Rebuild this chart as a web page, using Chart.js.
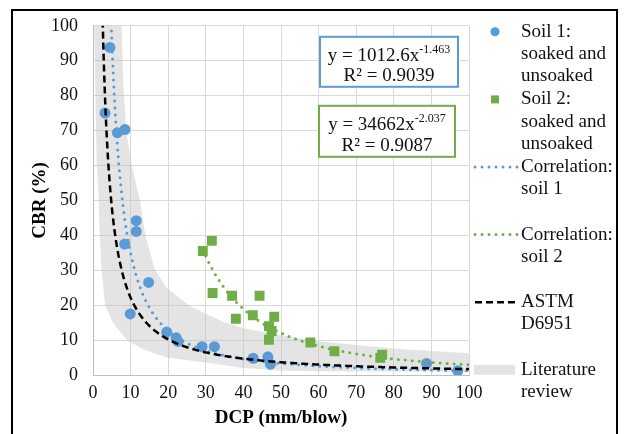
<!DOCTYPE html>
<html>
<head>
<meta charset="utf-8">
<script src="https://cdn.jsdelivr.net/npm/chart.js@4"></script>
<style>
  html, body { margin: 0; padding: 0; background: #fff; overflow: hidden; }
  #wrap { position: relative; width: 625px; height: 434px; }
</style>
</head>
<body>
<div id="wrap"><canvas id="cbrChart" width="625" height="434"></canvas></div>
<script>
// Soil 1 (soaked and unsoaked): DCP (mm/blow) vs CBR (%)
const soil1Dcp = [3.2, 4.5, 6.5, 8.5, 8.4, 9.9, 11.5, 11.5, 14.8, 19.6, 22.1, 22.6, 29.0, 32.3, 42.6, 46.5, 47.2, 88.7, 97.0];
const soil1Cbr = [75.0, 93.8, 69.4, 70.3, 37.5, 17.5, 44.2, 41.1, 26.5, 12.3, 10.7, 9.6, 8.1, 8.1, 4.8, 5.2, 3.1, 3.3, 1.2];

// Soil 2 (soaked and unsoaked)
const soil2Dcp = [29.2, 31.6, 31.8, 37.0, 38.0, 42.5, 44.3, 46.8, 46.8, 47.5, 48.2, 57.8, 64.2, 76.4, 76.9];
const soil2Cbr = [35.5, 38.4, 23.5, 22.7, 16.1, 17.1, 22.7, 14.0, 10.1, 12.6, 16.7, 9.3, 6.8, 4.9, 5.8];

// power fits y = a * x^b
const soil1Fit = [1012.6, -1.463];
const soil1R2 = 0.9039;
const soil2Fit = [34662, -2.037];
const soil2R2 = 0.9087;
const astmFit = [292, -1.12];   // ASTM D6951: CBR = 292 / DCP^1.12

// x ranges the fitted curves are drawn over
const soil1Range = [3.2, 100];
const soil2Range = [29.2, 100];
const astmRange = [2.5, 100];

// literature review envelope, outer edge then inner edge
const bandUpperDcp = [0.3, 7.6, 8.0, 8.8, 10.3, 12.5, 13.9, 16.5, 19.6, 25.8, 34.7, 40, 50, 60, 70, 80, 90, 100];
const bandUpperCbr = [100, 100, 85, 70, 60, 50, 40, 30, 25, 19.7, 15.2, 13.4, 11.4, 9.7, 8.6, 7.6, 6.9, 6.2];
const bandLowerDcp = [100, 80, 60, 50, 40, 30, 19.6, 13.4, 9.0, 5.4, 3.2, 2.3, 1.8, 1.4, 1.0, 0.3];
const bandLowerCbr = [0.9, 1.0, 1.1, 1.3, 2.0, 3.6, 5.0, 7.3, 10.0, 14.8, 20.0, 30.0, 40.0, 53.0, 60.0, 100];

const xTicks = [0, 10, 20, 30, 40, 50, 60, 70, 80, 90, 100];
const yTicks = [0, 10, 20, 30, 40, 50, 60, 70, 80, 90, 100];

const BLUE = '#5b9bd5';
const GREEN = '#70ad47';
const BAND = 'rgba(190,190,190,0.42)';
const SERIF = '"Liberation Serif", "Times New Roman", serif';

const pts = (xs, ys) => xs.map((x, i) => ({ x, y: ys[i] }));

function powerCurve(fit, range) {
  const out = [];
  for (let x = range[0]; x <= range[1] + 1e-9; x += 0.25) {
    out.push({ x, y: fit[0] * Math.pow(x, fit[1]) });
  }
  return out;
}

const bandShape = pts(bandUpperDcp, bandUpperCbr).concat(pts(bandLowerDcp, bandLowerCbr));

const dotted = { borderWidth: 3, borderDash: [0, 7], borderCapStyle: 'round' };
const dashed = { borderWidth: 2.5, borderDash: [7, 4], borderCapStyle: 'butt' };

// legend on the right side, drawn by hand for the wrapped labels
const legendRows = [
  { kind: 'circle', color: BLUE, lines: ['Soil 1:', 'soaked and', 'unsoaked'] },
  { kind: 'square', color: GREEN, lines: ['Soil 2:', 'soaked and', 'unsoaked'] },
  { kind: 'line', color: BLUE, style: dotted, lines: ['Correlation:', 'soil 1'] },
  { kind: 'line', color: GREEN, style: dotted, lines: ['Correlation:', 'soil 2'] },
  { kind: 'line', color: '#000', style: dashed, lines: ['ASTM', 'D6951'] },
  { kind: 'band', color: '#e3e3e3', lines: ['Literature', 'review'] },
];

const sideLegend = {
  id: 'sideLegend',
  afterDraw(chart) {
    const ctx = chart.ctx;
    const ca = chart.chartArea;
    const x0 = ca.right + 4;
    const markX = x0 + 22;
    const textX = x0 + 48;
    ctx.save();
    ctx.font = '19px ' + SERIF;
    ctx.fillStyle = '#111';
    ctx.textBaseline = 'middle';
    ctx.textAlign = 'left';
    legendRows.forEach((row, i) => {
      const y = ca.top + 6 + i * 67.6;
      if (row.kind === 'circle') {
        ctx.fillStyle = row.color;
        ctx.beginPath();
        ctx.arc(markX, y, 4.5, 0, Math.PI * 2);
        ctx.fill();
      } else if (row.kind === 'square') {
        ctx.fillStyle = row.color;
        ctx.fillRect(markX - 4, y - 4, 8, 8);
      } else if (row.kind === 'line') {
        ctx.strokeStyle = row.color;
        ctx.lineWidth = row.style.borderWidth;
        ctx.lineCap = row.style.borderCapStyle;
        ctx.setLineDash(row.style.borderDash);
        ctx.beginPath();
        ctx.moveTo(x0 + 2, y);
        ctx.lineTo(x0 + 46, y);
        ctx.stroke();
        ctx.setLineDash([]);
      } else {
        ctx.fillStyle = row.color;
        ctx.fillRect(x0 + 1, y - 5, 41, 10);
      }
      ctx.fillStyle = '#111';
      row.lines.forEach((t, j) => ctx.fillText(t, textX, y + j * 22.3));
    });
    ctx.restore();
  }
};

// boxed trend line equations
function drawEquation(ctx, box, fit, r2, color) {
  ctx.fillStyle = '#fff';
  ctx.fillRect(box.x, box.y, box.w, box.h);
  ctx.strokeStyle = color;
  ctx.lineWidth = 2;
  ctx.strokeRect(box.x, box.y, box.w, box.h);

  const main = 'y = ' + String(fit[0]) + 'x';
  const sup = fit[1].toFixed(3);
  const cx = box.x + box.w / 2;
  ctx.fillStyle = '#111';
  ctx.textBaseline = 'alphabetic';
  ctx.font = '19px ' + SERIF;
  const wMain = ctx.measureText(main).width;
  ctx.font = '12px ' + SERIF;
  const wSup = ctx.measureText(sup).width;
  const start = cx - (wMain + wSup) / 2;
  const base1 = box.y + box.h * 0.36 + 6;
  ctx.textAlign = 'left';
  ctx.font = '19px ' + SERIF;
  ctx.fillText(main, start, base1);
  ctx.font = '12px ' + SERIF;
  ctx.fillText(sup, start + wMain, base1 - 8);

  ctx.font = '19px ' + SERIF;
  ctx.textAlign = 'center';
  ctx.fillText('R\u00b2 = ' + r2.toFixed(4), cx, box.y + box.h * 0.76 + 6);
}

const equations = {
  id: 'equations',
  afterDatasetsDraw(chart) {
    const ctx = chart.ctx;
    const ca = chart.chartArea;
    ctx.save();
    drawEquation(ctx, { x: ca.right - 149, y: ca.top + 11, w: 138, h: 50 }, soil1Fit, soil1R2, BLUE);
    drawEquation(ctx, { x: ca.right - 150, y: ca.top + 80, w: 136, h: 51 }, soil2Fit, soil2R2, GREEN);
    ctx.restore();
  }
};

// thin black frame round the figure
const frame = {
  id: 'frame',
  afterDraw(chart) {
    const ctx = chart.ctx;
    ctx.save();
    ctx.strokeStyle = '#000';
    ctx.lineWidth = 2;
    ctx.strokeRect(12, 10, 605, 450);
    ctx.restore();
  }
};

const tickFont = { family: SERIF, size: 18 };
const titleFont = { family: SERIF, size: 19, weight: 'bold' };

new Chart(document.getElementById('cbrChart'), {
  type: 'scatter',
  data: {
    datasets: [
      {
        label: 'Literature review',
        data: bandShape,
        showLine: true,
        fill: 'shape',
        backgroundColor: BAND,
        borderWidth: 0,
        pointRadius: 0,
        order: 10,
      },
      {
        label: 'Soil 1: soaked and unsoaked',
        data: pts(soil1Dcp, soil1Cbr),
        backgroundColor: BLUE,
        borderWidth: 0,
        pointRadius: 5.5,
        order: 6,
      },
      {
        label: 'Soil 2: soaked and unsoaked',
        data: pts(soil2Dcp, soil2Cbr),
        backgroundColor: GREEN,
        borderWidth: 0,
        pointStyle: 'rect',
        pointRadius: 7,
        order: 5,
      },
      {
        label: 'Correlation: soil 1',
        data: powerCurve(soil1Fit, soil1Range),
        showLine: true,
        borderColor: BLUE,
        pointRadius: 0,
        ...dotted,
        order: 3,
      },
      {
        label: 'Correlation: soil 2',
        data: powerCurve(soil2Fit, soil2Range),
        showLine: true,
        borderColor: GREEN,
        pointRadius: 0,
        ...dotted,
        order: 2,
      },
      {
        label: 'ASTM D6951',
        data: powerCurve(astmFit, astmRange),
        showLine: true,
        borderColor: '#000',
        pointRadius: 0,
        ...dashed,
        order: 1,
      },
    ],
  },
  options: {
    responsive: false,
    animation: false,
    devicePixelRatio: 1,
    layout: { padding: { left: 28, top: 25, right: 156, bottom: 0 } },
    plugins: {
      legend: { display: false },
      tooltip: { enabled: false },
    },
    scales: {
      x: {
        type: 'linear',
        min: 0,
        max: 100,
        afterBuildTicks: s => { s.ticks = xTicks.map(v => ({ value: v })); },
        afterFit: s => { s.height = 59; },
        ticks: { font: tickFont, color: '#111', padding: 7 },
        grid: { color: '#d9d9d9', drawTicks: false },
        border: { color: '#bfbfbf' },
        title: { display: true, text: 'DCP (mm/blow)', font: titleFont, color: '#000', padding: { top: 0, bottom: 5 } },
      },
      y: {
        type: 'linear',
        min: 0,
        max: 100,
        afterBuildTicks: s => { s.ticks = yTicks.map(v => ({ value: v })); },
        afterFit: s => { s.width = 65; },
        ticks: { font: tickFont, color: '#111', padding: 15 },
        grid: { color: '#d9d9d9', drawTicks: false },
        border: { color: '#bfbfbf' },
        title: { display: true, text: 'CBR (%)', font: titleFont, color: '#000', padding: { top: 1, bottom: 0 } },
      },
    },
  },
  plugins: [equations, sideLegend, frame],
});
</script>
</body>
</html>
